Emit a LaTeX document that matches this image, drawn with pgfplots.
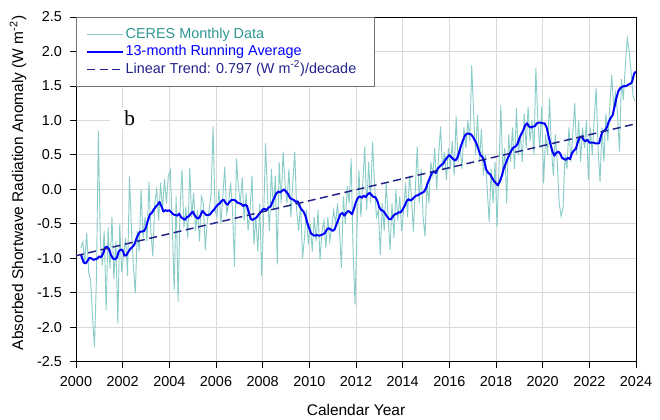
\documentclass[border=0pt]{standalone}
\usepackage{pgfplots}
\pgfplotsset{compat=1.18}
\usepackage{fontspec}
\setmainfont{Liberation Sans}
\newfontfamily\seriffont{Liberation Serif}
\definecolor{monthly}{RGB}{138,204,200}
\definecolor{monthlytxt}{RGB}{46,150,144}
\definecolor{ravg}{RGB}{0,0,255}
\definecolor{trend}{RGB}{34,34,139}
\definecolor{gridc}{RGB}{217,217,217}
\begin{document}
\begin{tikzpicture}
\begin{axis}[
  name=ax, scale only axis, width=420pt, height=258.75pt,
  xmin=2000, xmax=2024, ymin=-2.5, ymax=2.5,
  xtick={2000,2002,2004,2006,2008,2010,2012,2014,2016,2018,2020,2022,2024},
  xticklabels={2000,2002,2004,2006,2008,2010,2012,2014,2016,2018,2020,2022,2024},
  ytick={-2.5,-2,-1.5,-1,-0.5,0,0.5,1,1.5,2,2.5},
  yticklabels={-2.5,-2.0,-1.5,-1.0,-0.5,0.0,0.5,1.0,1.5,2.0,2.5},
  grid=major, major grid style={gridc, line width=0.75pt},
  axis line style={black, line width=0.75pt},
  tick align=outside, major tick length=4.5pt, tick style={black, line width=0.75pt},
  xtick pos=lower, ytick pos=left,
  tick label style={font=\fontsize{10.8}{13}\selectfont},
  xticklabel style={yshift=-2.5pt},
  yticklabel style={xshift=-2.5pt},
  xlabel={Calendar Year},
  ylabel={Absorbed Shortwave Radiation Anomaly (W m\textsuperscript{-2})},
  label style={font=\fontsize{11.6}{14}\selectfont},
  xlabel style={at={(axis description cs:0.5,-0.139)}, anchor=center},
  ylabel style={at={(axis description cs:-0.1036,0.519)}, anchor=center},
  legend cell align=left,
  legend style={at={(0,1)}, anchor=north west, draw=black!55, line width=0.6pt, fill=white,
    inner xsep=7.5pt, inner ysep=6.5pt, font=\fontsize{10.8}{13}\selectfont,
    nodes={inner sep=1pt, text height=8.4pt, text depth=2.6pt}, row sep=0pt},
  legend image code/.code={\draw[#1] (0pt,0pt) -- (24.75pt,0pt); \path (0pt,0pt) -- (27pt,0pt);},
]
% CERES monthly data
\addplot[monthly, line width=0.7pt] coordinates {
(2000.208,-0.85)(2000.292,-0.76)(2000.375,-1.05)(2000.458,-0.63)(2000.542,-1.20)(2000.625,-1.31)(2000.708,-1.85)(2000.792,-2.28)(2000.875,-1.30)(2000.958,0.85)
(2001.042,-0.70)(2001.125,-1.10)(2001.208,-0.60)(2001.292,-1.75)(2001.375,-0.55)(2001.458,-1.15)(2001.542,-0.40)(2001.625,-1.30)(2001.708,-0.75)(2001.792,-1.94)(2001.875,-0.50)(2001.958,-1.20)
(2002.042,-0.95)(2002.125,-0.70)(2002.208,-1.25)(2002.292,0.19)(2002.375,-0.55)(2002.458,-1.10)(2002.542,-1.50)(2002.625,-0.60)(2002.708,-0.90)(2002.792,0.00)(2002.875,-0.70)(2002.958,-0.40)
(2003.042,-0.75)(2003.125,0.11)(2003.208,-0.60)(2003.292,-0.97)(2003.375,-0.20)(2003.458,0.00)(2003.542,-0.45)(2003.625,0.10)(2003.708,-0.30)(2003.792,0.15)(2003.875,-0.20)(2003.958,0.20)
(2004.042,0.28)(2004.125,-0.50)(2004.208,-1.46)(2004.292,-0.10)(2004.375,-1.63)(2004.458,-0.30)(2004.542,0.28)(2004.625,-0.55)(2004.708,-0.25)(2004.792,-0.70)(2004.875,0.31)(2004.958,-0.40)
(2005.042,-0.05)(2005.125,-0.60)(2005.208,-0.30)(2005.292,-0.75)(2005.375,-0.10)(2005.458,-0.20)(2005.542,-0.88)(2005.625,-0.45)(2005.708,-0.30)(2005.792,-0.05)(2005.875,0.91)(2005.958,-0.30)
(2006.042,-0.40)(2006.125,0.00)(2006.208,-0.50)(2006.292,-0.10)(2006.375,0.33)(2006.458,-0.35)(2006.542,-0.20)(2006.625,0.10)(2006.708,-0.30)(2006.792,-1.12)(2006.875,0.45)(2006.958,0.05)
(2007.042,-0.20)(2007.125,0.17)(2007.208,-0.45)(2007.292,-0.05)(2007.375,-0.60)(2007.458,-0.30)(2007.542,0.20)(2007.625,-0.80)(2007.708,-0.40)(2007.792,-0.90)(2007.875,-0.20)(2007.958,-1.26)
(2008.042,-0.40)(2008.125,0.67)(2008.208,-0.10)(2008.292,-0.60)(2008.375,0.30)(2008.458,-0.30)(2008.542,0.20)(2008.625,-1.09)(2008.708,0.40)(2008.792,-0.20)(2008.875,0.55)(2008.958,0.10)
(2009.042,-0.20)(2009.125,0.30)(2009.208,-0.40)(2009.292,0.10)(2009.375,0.55)(2009.458,-0.30)(2009.542,-0.60)(2009.625,-0.20)(2009.708,-1.00)(2009.792,-0.70)(2009.875,-0.30)(2009.958,-0.80)
(2010.042,-0.50)(2010.125,-0.90)(2010.208,-0.40)(2010.292,-0.75)(2010.375,-0.30)(2010.458,-1.02)(2010.542,-0.60)(2010.625,-0.45)(2010.708,-0.85)(2010.792,-0.40)(2010.875,-0.75)(2010.958,-0.55)
(2011.042,-0.30)(2011.125,-0.50)(2011.208,-0.20)(2011.292,-0.60)(2011.375,-1.14)(2011.458,-0.10)(2011.542,-0.50)(2011.625,0.05)(2011.708,-0.20)(2011.792,0.45)(2011.875,-0.90)(2011.958,-1.67)
(2012.042,-0.60)(2012.125,0.28)(2012.208,-0.40)(2012.292,0.10)(2012.375,0.62)(2012.458,-0.30)(2012.542,0.40)(2012.625,-0.20)(2012.708,0.69)(2012.792,0.10)(2012.875,-0.40)(2012.958,-0.30)
(2013.042,-0.95)(2013.125,-0.20)(2013.208,-0.60)(2013.292,0.10)(2013.375,-0.40)(2013.458,-0.88)(2013.542,-0.20)(2013.625,-0.70)(2013.708,0.00)(2013.792,-0.45)(2013.875,-0.10)(2013.958,-0.60)
(2014.042,-0.30)(2014.125,0.10)(2014.208,-0.40)(2014.292,0.20)(2014.375,-0.10)(2014.458,-0.61)(2014.542,0.00)(2014.625,0.62)(2014.708,-0.20)(2014.792,0.30)(2014.875,-0.40)(2014.958,-0.68)
(2015.042,0.10)(2015.125,-0.20)(2015.208,0.40)(2015.292,0.20)(2015.375,0.60)(2015.458,0.00)(2015.542,0.50)(2015.625,0.91)(2015.708,0.30)(2015.792,0.55)(2015.875,0.14)(2015.958,0.60)
(2016.042,0.30)(2016.125,0.70)(2016.208,0.20)(2016.292,1.06)(2016.375,0.40)(2016.458,0.60)(2016.542,0.30)(2016.625,0.90)(2016.708,0.60)(2016.792,1.00)(2016.875,0.70)(2016.958,1.80)
(2017.042,1.10)(2017.125,0.50)(2017.208,1.08)(2017.292,0.40)(2017.375,0.88)(2017.458,0.20)(2017.542,0.50)(2017.625,0.00)(2017.708,-0.47)(2017.792,0.30)(2017.875,-0.20)(2017.958,0.40)
(2018.042,-0.54)(2018.125,0.30)(2018.208,1.22)(2018.292,0.20)(2018.375,0.60)(2018.458,-0.20)(2018.542,0.80)(2018.625,0.40)(2018.708,0.90)(2018.792,0.30)(2018.875,1.18)(2018.958,0.50)
(2019.042,0.80)(2019.125,0.40)(2019.208,1.10)(2019.292,0.60)(2019.375,1.20)(2019.458,0.70)(2019.542,1.00)(2019.625,0.50)(2019.708,1.76)(2019.792,1.00)(2019.875,0.60)(2019.958,1.20)
(2020.042,0.09)(2020.125,0.80)(2020.208,0.50)(2020.292,1.32)(2020.375,0.60)(2020.458,0.20)(2020.542,0.80)(2020.625,0.40)(2020.708,-0.20)(2020.792,-0.39)(2020.875,-0.26)(2020.958,0.50)
(2021.042,0.30)(2021.125,0.90)(2021.208,0.40)(2021.292,0.80)(2021.375,1.25)(2021.458,0.50)(2021.542,1.00)(2021.625,0.40)(2021.708,0.90)(2021.792,0.60)(2021.875,1.00)(2021.958,0.14)
(2022.042,0.90)(2022.125,0.50)(2022.208,1.00)(2022.292,1.47)(2022.375,0.60)(2022.458,0.11)(2022.542,0.90)(2022.625,0.40)(2022.708,1.10)(2022.792,0.70)(2022.875,1.20)(2022.958,1.66)
(2023.042,1.20)(2023.125,1.40)(2023.208,1.10)(2023.292,0.55)(2023.375,1.60)(2023.458,1.30)(2023.542,1.80)(2023.625,2.19)(2023.708,2.00)(2023.792,1.70)(2023.875,1.35)(2023.958,1.28)
};
\addlegendentry{\textcolor{monthlytxt}{CERES Monthly Data}}
% 13-month running average
\addplot[ravg, line width=1.5pt, line join=round] coordinates {
(2000.21,-0.94)(2000.33,-1.06)(2000.42,-1.07)(2000.50,-1.03)(2000.58,-0.99)(2000.67,-1.00)(2000.75,-1.02)(2000.83,-1.01)(2000.92,-1.00)
(2001.00,-0.97)(2001.08,-0.98)(2001.17,-0.92)(2001.25,-0.84)(2001.33,-0.83)(2001.42,-0.87)(2001.50,-0.95)(2001.58,-1.00)(2001.67,-1.01)(2001.75,-0.99)(2001.83,-0.90)(2001.92,-0.87)
(2002.00,-0.88)(2002.08,-0.96)(2002.17,-0.95)(2002.25,-0.90)(2002.33,-0.86)(2002.42,-0.83)(2002.50,-0.80)(2002.58,-0.72)(2002.67,-0.65)(2002.75,-0.61)(2002.83,-0.61)(2002.92,-0.60)
(2003.00,-0.55)(2003.08,-0.45)(2003.17,-0.36)(2003.25,-0.34)(2003.33,-0.29)(2003.42,-0.25)(2003.50,-0.22)(2003.58,-0.18)(2003.67,-0.25)(2003.75,-0.32)(2003.83,-0.30)(2003.92,-0.31)
(2004.00,-0.30)(2004.08,-0.33)(2004.17,-0.36)(2004.25,-0.37)(2004.33,-0.38)(2004.42,-0.35)(2004.50,-0.40)(2004.58,-0.42)(2004.67,-0.44)(2004.75,-0.40)(2004.83,-0.39)(2004.92,-0.35)
(2005.00,-0.32)(2005.08,-0.37)(2005.17,-0.41)(2005.25,-0.42)(2005.33,-0.38)(2005.42,-0.31)(2005.50,-0.34)(2005.58,-0.37)(2005.67,-0.37)(2005.75,-0.36)(2005.83,-0.32)(2005.92,-0.29)
(2006.00,-0.25)(2006.08,-0.22)(2006.17,-0.20)(2006.25,-0.16)(2006.33,-0.15)(2006.42,-0.20)(2006.50,-0.22)(2006.58,-0.18)(2006.67,-0.15)(2006.75,-0.15)(2006.83,-0.16)(2006.92,-0.19)
(2007.00,-0.20)(2007.08,-0.21)(2007.17,-0.24)(2007.25,-0.22)(2007.33,-0.24)(2007.42,-0.35)(2007.50,-0.43)(2007.58,-0.44)(2007.67,-0.42)(2007.75,-0.40)(2007.83,-0.36)(2007.92,-0.33)
(2008.00,-0.29)(2008.08,-0.28)(2008.17,-0.30)(2008.25,-0.26)(2008.33,-0.25)(2008.42,-0.18)(2008.50,-0.12)(2008.58,-0.06)(2008.67,-0.03)(2008.75,-0.04)(2008.83,-0.02)(2008.92,0.00)
(2009.00,-0.03)(2009.08,-0.06)(2009.17,-0.12)(2009.25,-0.14)(2009.33,-0.15)(2009.42,-0.18)(2009.50,-0.17)(2009.58,-0.24)(2009.67,-0.29)(2009.75,-0.32)(2009.83,-0.38)(2009.92,-0.49)
(2010.00,-0.57)(2010.08,-0.64)(2010.17,-0.66)(2010.25,-0.67)(2010.33,-0.66)(2010.42,-0.67)(2010.50,-0.66)(2010.58,-0.65)(2010.67,-0.63)(2010.75,-0.58)(2010.83,-0.56)(2010.92,-0.58)
(2011.00,-0.60)(2011.08,-0.58)(2011.17,-0.50)(2011.25,-0.43)(2011.33,-0.36)(2011.42,-0.34)(2011.50,-0.38)(2011.58,-0.34)(2011.67,-0.31)(2011.75,-0.33)(2011.83,-0.36)(2011.92,-0.27)
(2012.00,-0.18)(2012.08,-0.12)(2012.17,-0.10)(2012.25,-0.12)(2012.33,-0.09)(2012.42,-0.11)(2012.50,-0.07)(2012.58,-0.05)(2012.67,-0.08)(2012.75,-0.11)(2012.83,-0.11)(2012.92,-0.17)
(2013.00,-0.26)(2013.08,-0.30)(2013.17,-0.31)(2013.25,-0.35)(2013.33,-0.39)(2013.42,-0.43)(2013.50,-0.43)(2013.58,-0.39)(2013.67,-0.36)(2013.75,-0.35)(2013.83,-0.33)(2013.92,-0.33)
(2014.00,-0.29)(2014.08,-0.24)(2014.17,-0.17)(2014.25,-0.14)(2014.33,-0.16)(2014.42,-0.14)(2014.50,-0.11)(2014.58,-0.09)(2014.67,-0.08)(2014.75,-0.06)(2014.83,-0.05)(2014.92,-0.03)
(2015.00,0.02)(2015.08,0.10)(2015.17,0.17)(2015.25,0.24)(2015.33,0.26)(2015.42,0.24)(2015.50,0.30)(2015.58,0.33)(2015.67,0.36)(2015.75,0.38)(2015.83,0.43)(2015.92,0.47)
(2016.00,0.50)(2016.08,0.47)(2016.17,0.44)(2016.25,0.42)(2016.33,0.45)(2016.42,0.54)(2016.50,0.63)(2016.58,0.71)(2016.67,0.78)(2016.75,0.81)(2016.83,0.81)(2016.92,0.80)
(2017.00,0.77)(2017.08,0.72)(2017.17,0.66)(2017.25,0.58)(2017.33,0.50)(2017.42,0.47)(2017.50,0.40)(2017.58,0.29)(2017.67,0.24)(2017.75,0.22)(2017.83,0.17)(2017.92,0.12)
(2018.00,0.09)(2018.08,0.06)(2018.17,0.12)(2018.25,0.20)(2018.33,0.30)(2018.42,0.38)(2018.50,0.45)(2018.58,0.51)(2018.67,0.57)(2018.75,0.61)(2018.83,0.62)(2018.92,0.66)
(2019.00,0.74)(2019.08,0.80)(2019.17,0.86)(2019.25,0.93)(2019.33,0.96)(2019.42,0.91)(2019.50,0.90)(2019.58,0.91)(2019.67,0.92)(2019.75,0.96)(2019.83,0.97)(2019.92,0.97)
(2020.00,0.96)(2020.08,0.96)(2020.17,0.90)(2020.25,0.78)(2020.33,0.66)(2020.42,0.55)(2020.50,0.49)(2020.58,0.53)(2020.67,0.55)(2020.75,0.52)(2020.83,0.46)(2020.92,0.44)
(2021.00,0.43)(2021.08,0.46)(2021.17,0.44)(2021.25,0.52)(2021.33,0.56)(2021.42,0.59)(2021.50,0.68)(2021.58,0.75)(2021.67,0.77)(2021.75,0.72)(2021.83,0.70)(2021.92,0.72)
(2022.00,0.68)(2022.08,0.68)(2022.17,0.68)(2022.25,0.67)(2022.33,0.67)(2022.42,0.67)(2022.50,0.78)(2022.58,0.84)(2022.67,0.86)(2022.75,0.90)(2022.83,0.98)(2022.92,1.04)
(2023.00,1.08)(2023.08,1.20)(2023.17,1.34)(2023.25,1.43)(2023.33,1.47)(2023.42,1.49)(2023.50,1.50)(2023.58,1.50)(2023.67,1.52)(2023.75,1.53)(2023.83,1.56)(2023.92,1.68)(2024.00,1.71)
};
\addlegendentry{\textcolor{ravg}{13-month Running Average}}
% linear trend
\addplot[trend, line width=1.1pt, dash pattern=on 6pt off 3.4pt] coordinates {(2000,-0.96) (2024,0.953)};
\addlegendentry{\textcolor{trend}{Linear Trend: 0.797 (W m\textsuperscript{-2})/decade}\hspace*{5pt}}
\node[fill=white, font=\seriffont\fontsize{16}{16}\selectfont, minimum width=30pt, minimum height=16pt, inner sep=0pt] at (axis cs:2002.3,1.03) {b};
\end{axis}
\pgfresetboundingbox
\path ([shift={(-57pt,-43.5pt)}]ax.south west) rectangle ([shift={(18pt,12.75pt)}]ax.north east);
\end{tikzpicture}
\end{document}
